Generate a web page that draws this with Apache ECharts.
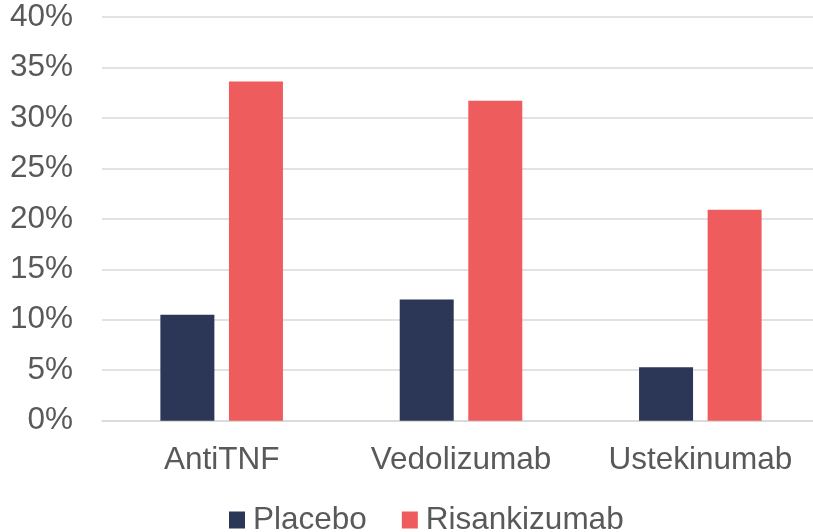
<!DOCTYPE html>
<html>
<head>
<meta charset="utf-8">
<script src="https://cdn.jsdelivr.net/npm/echarts@6/dist/echarts.min.js"></script>
<style>
  html, body { margin: 0; padding: 0; background: #fff; }
  #chart { width: 813px; height: 532px; }
</style>
</head>
<body>
<div id="chart"></div>
<script>
const categories = ['AntiTNF', 'Vedolizumab', 'Ustekinumab'];
const placebo = [10.5, 12.0, 5.3];
const risankizumab = [33.6, 31.7, 20.9];

const textColor = '#595959';
const fontFamily = '"Liberation Sans", Arial, sans-serif';

const chart = echarts.init(document.getElementById('chart'));
chart.setOption({
    animation: false,
    textStyle: { fontFamily: fontFamily },
    grid: {
        left: 102,
        top: 17,
        width: 718,
        height: 403.7,
        containLabel: false,
        outerBoundsMode: 'none'
    },
    legend: {
        data: ['Placebo', 'Risankizumab'],
        left: 229,
        top: 504,
        padding: 0,
        itemWidth: 16,
        itemHeight: 17,
        itemGap: 35,
        icon: 'rect',
        textStyle: {
            color: textColor,
            fontSize: 31.5,
            fontFamily: fontFamily,
            padding: [0, 0, 0, 3]
        }
    },
    xAxis: {
        type: 'category',
        data: categories,
        axisLine: { show: true, lineStyle: { color: '#d9d9d9', width: 1.5 } },
        axisTick: { show: false },
        axisLabel: {
            interval: 0,
            hideOverlap: false,
            color: textColor,
            fontSize: 31.5,
            fontFamily: fontFamily,
            margin: 24
        }
    },
    yAxis: {
        type: 'value',
        min: 0,
        max: 40,
        interval: 5,
        axisLine: { show: false },
        axisTick: { show: false },
        splitLine: { lineStyle: { color: '#d9d9d9', width: 1.5 } },
        axisLabel: {
            color: textColor,
            fontSize: 31.5,
            fontFamily: fontFamily,
            margin: 29,
            formatter: '{value}%'
        }
    },
    series: [
        {
            name: 'Placebo',
            type: 'bar',
            data: placebo,
            barWidth: 54,
            barGap: '27%',
            itemStyle: { color: '#2c3758' }
        },
        {
            name: 'Risankizumab',
            type: 'bar',
            data: risankizumab,
            barWidth: 54,
            barGap: '27%',
            itemStyle: { color: '#ef5c5e' }
        }
    ]
});
</script>
</body>
</html>
